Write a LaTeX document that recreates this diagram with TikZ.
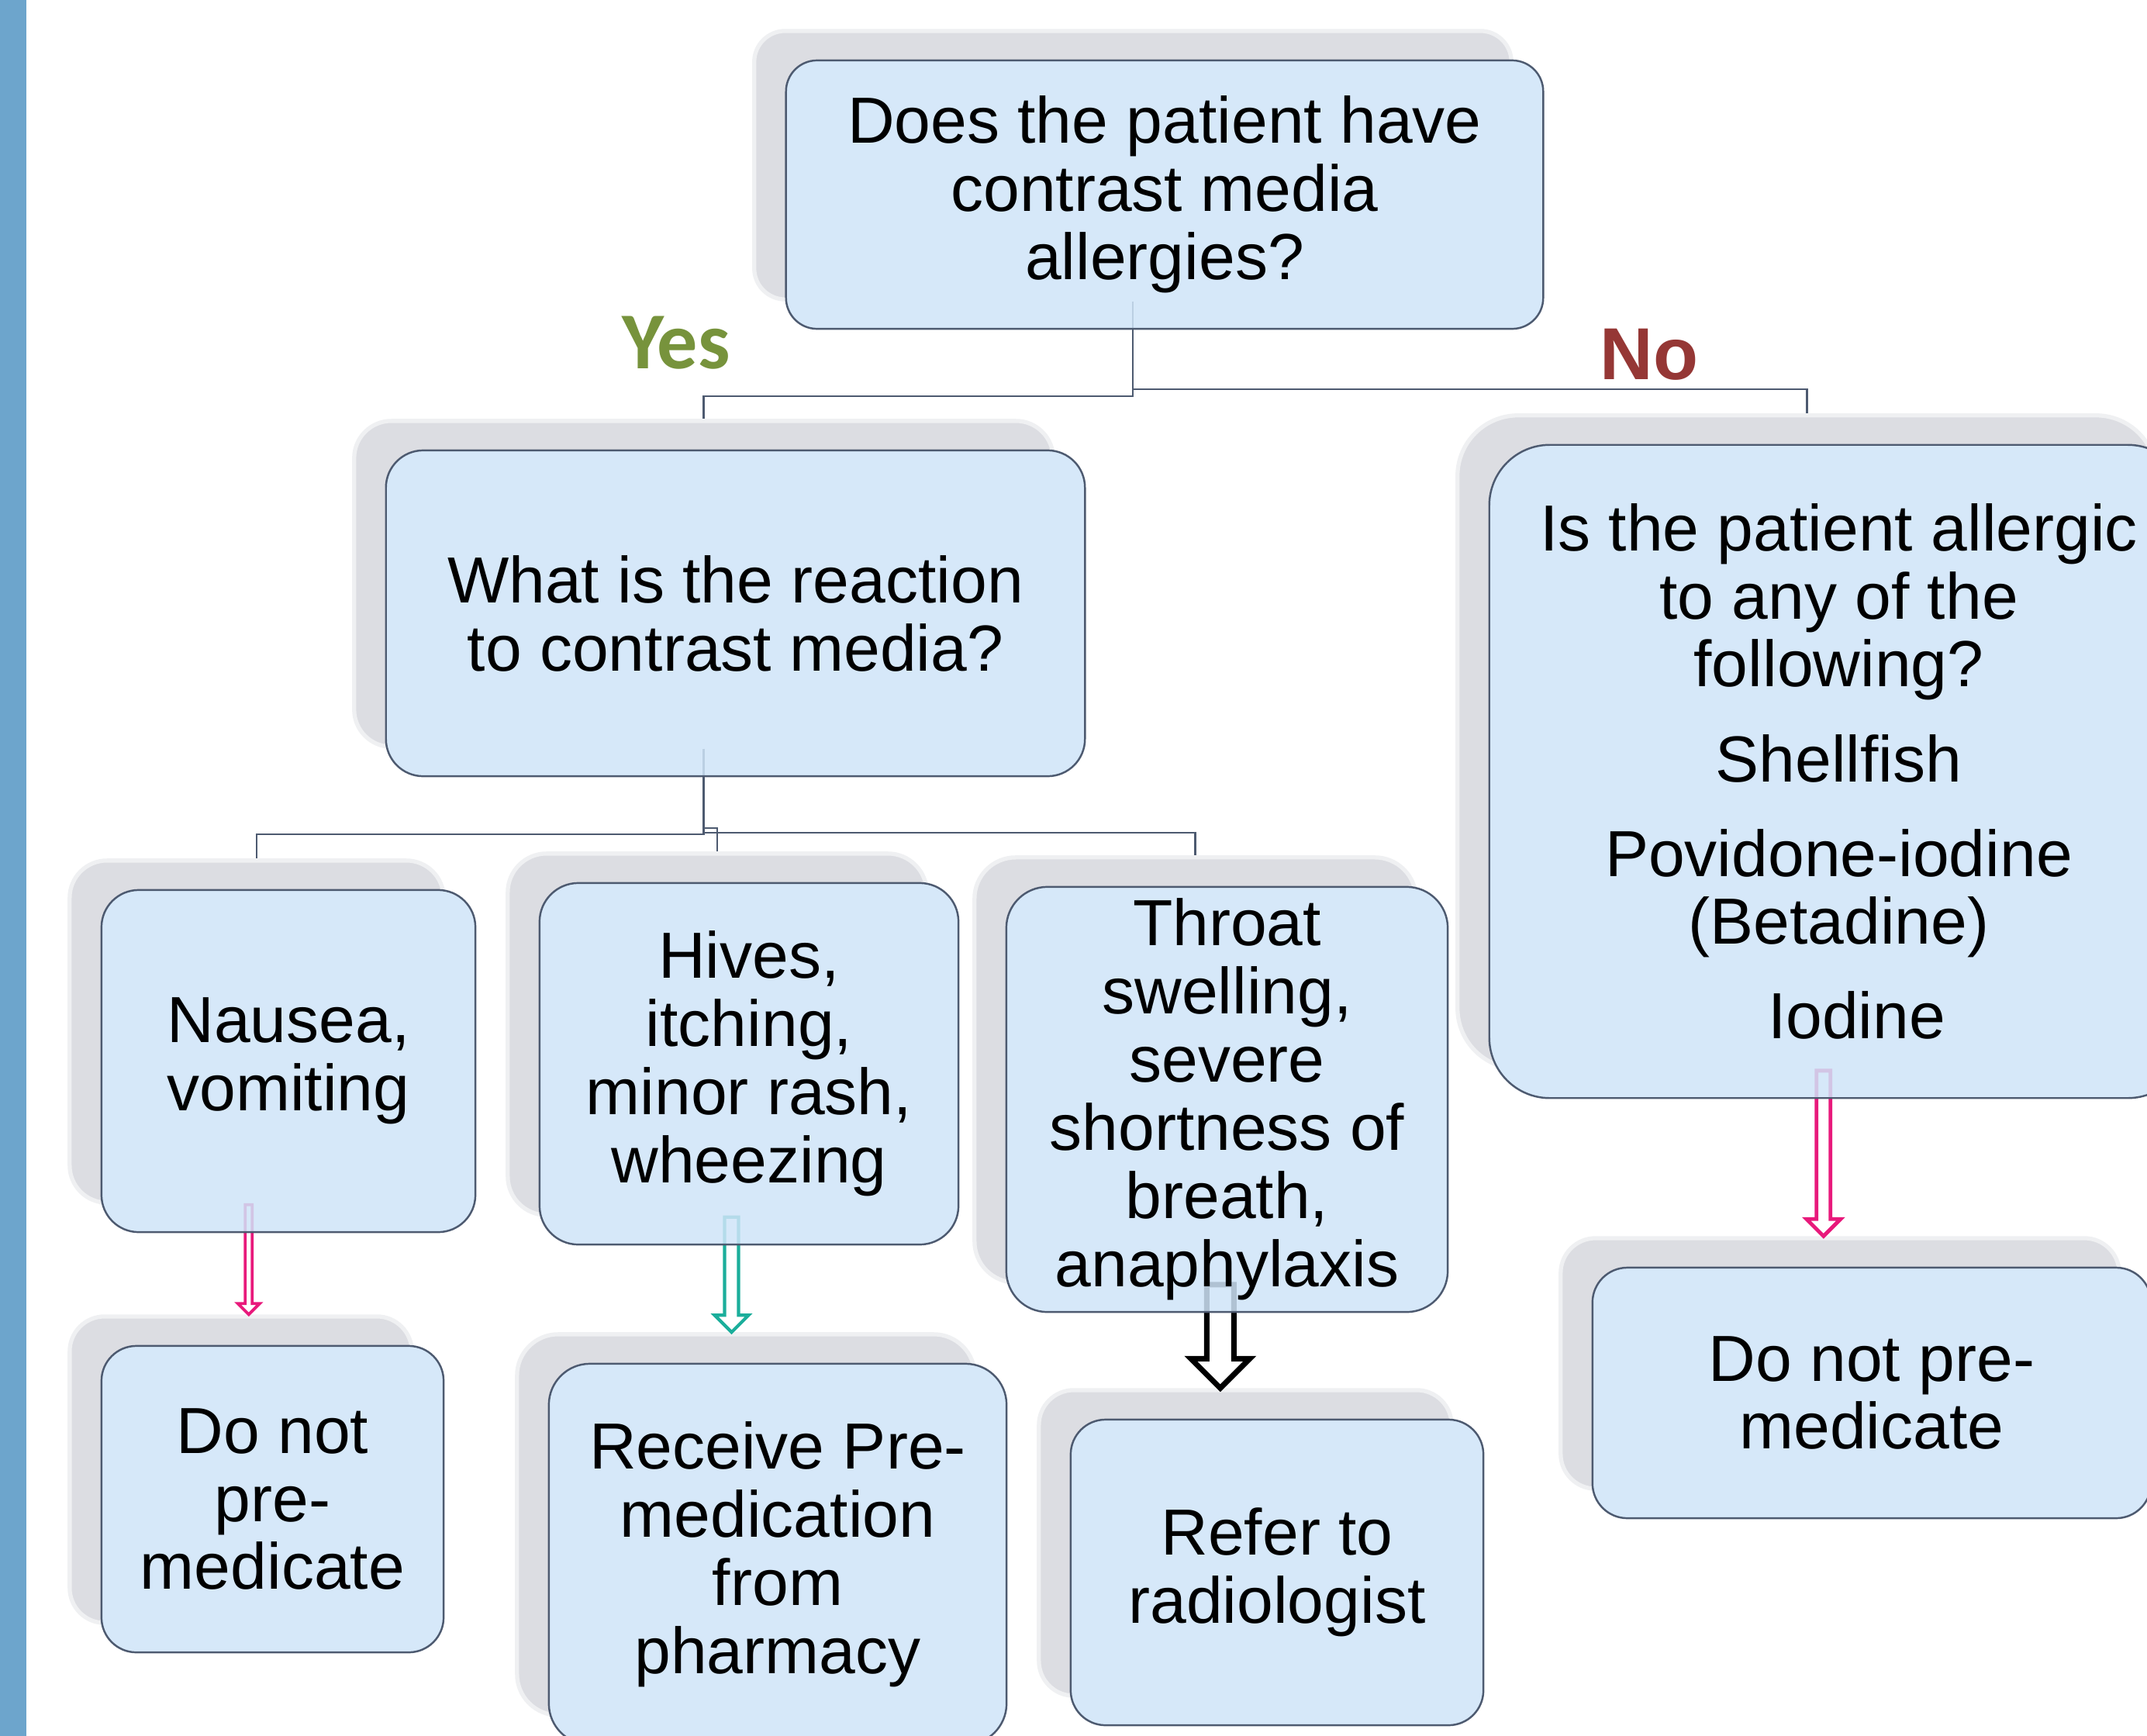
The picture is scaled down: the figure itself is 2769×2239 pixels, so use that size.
\documentclass[tikz,border=0pt]{standalone}
\usepackage{fontspec}
\setmainfont{Liberation Sans}
\newfontfamily\yesfont{Carlito}
\usetikzlibrary{calc}
\definecolor{boxfill}{HTML}{CFE4F8}
\definecolor{boxline}{HTML}{4D5A70}
\definecolor{shadowc}{HTML}{DCDDE2}
\definecolor{barc}{HTML}{6DA5CC}
\definecolor{yesc}{HTML}{77933C}
\definecolor{noc}{HTML}{953735}
\definecolor{pinkc}{HTML}{E8197B}
\definecolor{tealc}{HTML}{1BAE9B}
\pgfdeclarelayer{shadows}
\pgfdeclarelayer{under}
\pgfdeclarelayer{lines}
\pgfsetlayers{shadows,under,lines,main}
\tikzset{
  box/.style={draw=boxline, line width=0.7pt, fill=boxfill, fill opacity=0.85,
    text opacity=1, draw opacity=1, align=center, inner sep=0pt,
    font=\fontsize{23.9pt}{25pt}\selectfont},
  underbox/.style={fill=white, inner sep=0pt},
  shadowbox/.style={fill=shadowc, draw=shadowc!45!white, line width=1.5pt, inner sep=0pt},
  conn/.style={draw=boxline, line width=0.7pt},
  pinkarrow/.style={draw=pinkc, line width=1.1pt, fill=white, line join=miter},
  pinkarrowb/.style={draw=pinkc, line width=1.4pt, fill=white, line join=miter},
  tealarrow/.style={draw=tealc, line width=1.2pt, fill=white, line join=miter},
  blackarrow/.style={draw=black, line width=2pt, fill=white, line join=miter},
  yeslabel/.style={font=\yesfont\bfseries\fontsize{29.6pt}{30pt}\selectfont, text=yesc, anchor=base, inner sep=0pt},
  nolabel/.style={font=\bfseries\fontsize{27pt}{28pt}\selectfont, text=noc, anchor=base, inner sep=0pt}
}
% #1 name, #2 x, #3 y, #4 width, #5 height, #6 corner radius, #7 text
\newcommand\boxnode[7]{%
  \begin{pgfonlayer}{shadows}
    \node[shadowbox, minimum width=#4, minimum height=#5, rounded corners=#6] (sh#1) at ($(#2,#3)+(-41,-38)$) {};
  \end{pgfonlayer}
  \begin{pgfonlayer}{under}
    \node[underbox, minimum width=#4, minimum height=#5, rounded corners=#6] (un#1) at (#2,#3) {};
  \end{pgfonlayer}
  \node[box, minimum width=#4, minimum height=#5, rounded corners=#6] (#1) at (#2,#3) {#7};}
\newcommand\hollowarrow[5]{%
  \path ($(#1.south)!0.5!(#2.north)$) coordinate (am);
  \path (am |- #1.south) coordinate (at);
  \path (am |- #2.north) coordinate (ak);
  \draw[#5] ($(at)+(-#3,0)$) -- ($(ak)+(-#3,-#4)$) -- ($(ak)+(-#4,-#4)$) -- (ak)
    -- ($(ak)+(#4,-#4)$) -- ($(ak)+(#3,-#4)$) -- ($(at)+(#3,0)$) -- cycle;}
\begin{document}
\begin{tikzpicture}[x=0.01cm, y=-0.01cm]
\useasboundingbox (0,0) rectangle (2769,2239);
\clip (0,0) rectangle (2769,2239);
\begin{pgfonlayer}{shadows}
\fill[white] (0,0) rectangle (2769,2239);
\fill[barc] (0,0) rectangle (34,2239);
\end{pgfonlayer}

\boxnode{top}{1502}{251}{9.76cm}{3.46cm}{0.40cm}{Does the patient have\\contrast media\\allergies?}
\boxnode{whatq}{948.5}{791}{9.01cm}{4.20cm}{0.48cm}{What is the reaction\\to contrast media?}
\boxnode{allergic}{2371.5}{995}{9.01cm}{8.42cm}{0.78cm}{Is the patient allergic\\to any of the\\following?\\[9.7pt]Shellfish\\[9.7pt]Povidone-iodine\\(Betadine)\\[9.7pt]\hspace*{0.46cm}Iodine}
\boxnode{nausea}{372}{1368.5}{4.82cm}{4.41cm}{0.48cm}{Nausea,\\vomiting}
\boxnode{hives}{966}{1372}{5.40cm}{4.66cm}{0.50cm}{Hives,\\itching,\\minor rash,\\wheezing}
\boxnode{throat}{1582.5}{1418}{5.69cm}{5.48cm}{0.53cm}{Throat\\swelling,\\severe\\shortness of\\breath,\\anaphylaxis}
\boxnode{dnl}{351.5}{1933.5}{4.41cm}{3.95cm}{0.45cm}{Do not\\pre-\\medicate}
\boxnode{receive}{1003}{2004.5}{5.90cm}{4.91cm}{0.53cm}{Receive Pre-\\medication\\from\\pharmacy}
\boxnode{refer}{1647}{2028}{5.32cm}{3.94cm}{0.45cm}{Refer to\\radiologist}
\boxnode{dnr}{2414}{1796.5}{7.20cm}{3.23cm}{0.45cm}{Do not pre-\\medicate}

\begin{pgfonlayer}{lines}
% connectors
\draw[conn] (shtop.south) -- ++(0,122) -| (shwhatq.north);
\draw[conn] (shtop.south) -- ++(0,113) -| (shallergic.north);
\draw[conn] (shwhatq.south) -- ++(0,110) -| (shnausea.north);
\draw[conn] (shwhatq.south) -- ++(0,102) -| (shhives.north);
\draw[conn] (shwhatq.south) -- ++(0,108) -| (shthroat.north);
% block arrows
\hollowarrow{shnausea}{shdnl}{4.5}{14}{pinkarrow}
\hollowarrow{shhives}{shreceive}{9}{22}{tealarrow}
\hollowarrow{shthroat}{shrefer}{17.5}{38}{blackarrow}
\hollowarrow{shallergic}{shdnr}{9}{22}{pinkarrowb}
\end{pgfonlayer}

% labels
\node[yeslabel] (yes) at (872,475) {Yes};
\node[nolabel] (no) at (2127,489) {No};
\end{tikzpicture}
\end{document}
